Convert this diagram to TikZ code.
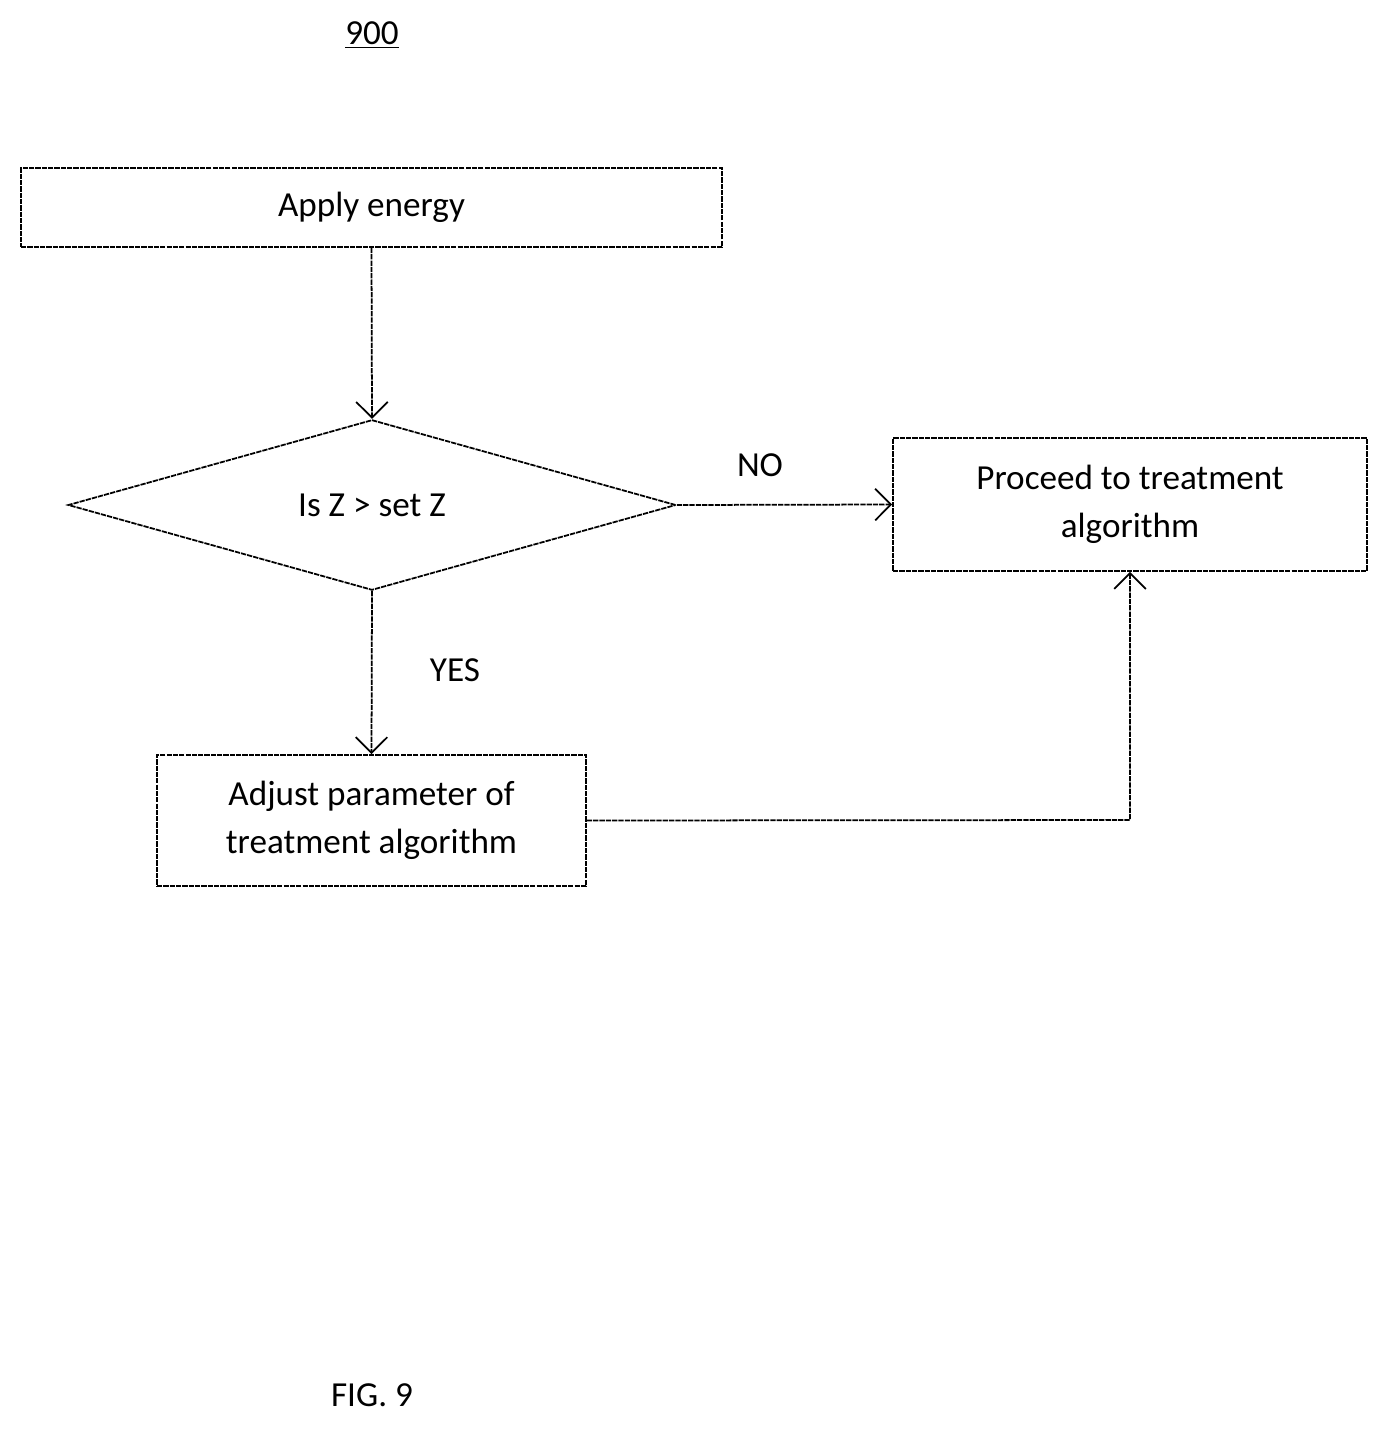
\documentclass[tikz,border=0pt]{standalone}
\usepackage{fontspec}
\setmainfont{Carlito}
\usetikzlibrary{shapes.geometric,arrows.meta}
\begin{document}
\begin{tikzpicture}[x=0.02cm,y=-0.02cm,
  box/.style={draw, line width=1pt, densely dashed, dash pattern=on 3pt off 0.6pt, rectangle, inner sep=0pt, align=center, font=\fontsize{20}{27}\selectfont},
  dia/.style={draw, line width=1pt, dash pattern=on 3pt off 0.6pt, diamond, inner sep=0pt, minimum width=12.16cm, minimum height=3.16cm, font=\fontsize{20}{24}\selectfont},
  conn/.style={line width=1pt, dash pattern=on 3pt off 0.6pt, -{Straight Barb[length=9pt,width=18pt,line width=1pt]}},
  lbl/.style={font=\fontsize{20}{24}\selectfont}]
\useasboundingbox (0,0) rectangle (1389,1430);
\node[lbl] (num) at (372,35) {\underline{900}};
\node[box, minimum width=14.02cm, minimum height=1.58cm] (apply) at (371.5,207.5) {Apply energy};
\node[dia] (dec) at (372,505) {Is Z > set Z};
\node[box, minimum width=9.48cm, minimum height=2.66cm] (proc) at (1130,504.5) {Proceed to treatment\\algorithm};
\node[box, minimum width=8.58cm, minimum height=2.62cm] (adj) at (371.5,820.5) {Adjust parameter of\\treatment algorithm};
\node[lbl] (no) at (760,465) {NO};
\node[lbl] (yes) at (455,670) {YES};
\node[lbl] (fig) at (372,1395) {FIG. 9};
\coordinate (corner) at (1130,820);
\draw[conn] (apply.south) -- (dec.north);
\draw[conn] (dec.east) -- (proc.west);
\draw[conn] (dec.south) -- (adj.north);
\draw[conn] (adj.east) -- (corner) -- (proc.south);
\end{tikzpicture}
\end{document}
